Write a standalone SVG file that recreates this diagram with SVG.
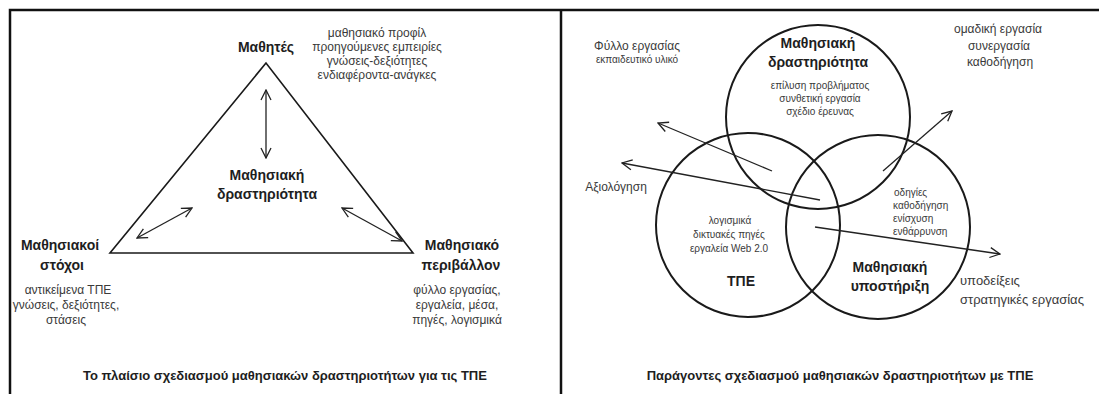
<svg xmlns="http://www.w3.org/2000/svg" width="1099" height="394" viewBox="0 0 1099 394">
  <style>
    text { font-family: "Liberation Sans", Arial, sans-serif; text-anchor: middle; }
    .h { font-weight: bold; font-size: 14px; fill: #1e1e1e; }
    .s { font-size: 12px; fill: #3a3a3a; }
    .xs { font-size: 10px; fill: #3a3a3a; }
    .cap { font-weight: bold; font-size: 13px; fill: #1e1e1e; }
    .frame { stroke: #111; stroke-width: 2.5; fill: none; }
    .shape { stroke: #1a1a1a; stroke-width: 1.6; fill: none; }
    .ring { stroke: #1a1a1a; stroke-width: 2; fill: none; }
    .arrow { stroke: #222; stroke-width: 1.3; fill: none; }
  </style>
  <defs>
    <marker id="head" viewBox="0 0 12 12" refX="11" refY="6" markerWidth="12" markerHeight="12" markerUnits="userSpaceOnUse" orient="auto-start-reverse">
      <path d="M1,1 L11,6 L1,11" fill="none" stroke="#222" stroke-width="1.3"/>
    </marker>
  </defs>
  <rect width="1099" height="394" fill="#fff"/>

  <!-- panel frame -->
  <g id="frame">
    <path class="frame" d="M10,394 V10 H1099"/>
    <path class="frame" d="M561,10 V394"/>
  </g>

  <!-- left panel: triangle framework -->
  <g id="triangle">
    <path class="shape" d="M266,63 L110,253 L413,253 Z"/>
  </g>
  <g id="learners">
    <text class="h" x="266" y="52">Μαθητές</text>
    <text class="s" x="377" y="37">μαθησιακό προφίλ</text>
    <text class="s" x="377" y="51">προηγούμενες εμπειρίες</text>
    <text class="s" x="377" y="65">γνώσεις-δεξιότητες</text>
    <text class="s" x="377" y="79">ενδιαφέροντα-ανάγκες</text>
  </g>
  <g id="activity-left">
    <text class="h" x="267" y="180">Μαθησιακή</text>
    <text class="h" x="267" y="199">δραστηριότητα</text>
  </g>
  <g id="goals">
    <text class="h" x="60" y="250">Μαθησιακοί</text>
    <text class="h" x="62" y="270">στόχοι</text>
    <text class="s" x="68" y="294">αντικείμενα ΤΠΕ</text>
    <text class="s" x="66" y="309">γνώσεις, δεξιότητες,</text>
    <text class="s" x="66" y="324">στάσεις</text>
  </g>
  <g id="environment">
    <text class="h" x="462" y="250">Μαθησιακό</text>
    <text class="h" x="461" y="270">περιβάλλον</text>
    <text class="s" x="457" y="294">φύλλο εργασίας,</text>
    <text class="s" x="457" y="309">εργαλεία, μέσα,</text>
    <text class="s" x="457" y="324">πηγές, λογισμικά</text>
  </g>
  <g id="caption-left">
    <text class="cap" x="285" y="380">Το πλαίσιο σχεδιασμού μαθησιακών δραστηριοτήτων για τις ΤΠΕ</text>
  </g>

  <!-- right panel: three overlapping factors -->
  <g id="activity">
    <circle class="ring" cx="818" cy="117" r="92"/>
    <text class="h" x="818" y="48">Μαθησιακή</text>
    <text class="h" x="818" y="67">δραστηριότητα</text>
    <text class="xs" x="820" y="89">επίλυση προβλήματος</text>
    <text class="xs" x="820" y="102">συνθετική εργασία</text>
    <text class="xs" x="820" y="115">σχέδιο έρευνας</text>
  </g>
  <g id="ict">
    <circle class="ring" cx="748" cy="225" r="92"/>
    <text class="xs" x="730" y="224">λογισμικά</text>
    <text class="xs" x="729" y="238">δικτυακές πηγές</text>
    <text class="xs" x="729" y="252">εργαλεία Web 2.0</text>
    <text class="h" x="741" y="286">ΤΠΕ</text>
  </g>
  <g id="support">
    <circle class="ring" cx="878" cy="227" r="92"/>
    <text class="xs" x="894" y="196" style="text-anchor:start">οδηγίες</text>
    <text class="xs" x="893" y="209" style="text-anchor:start">καθοδήγηση</text>
    <text class="xs" x="893" y="222" style="text-anchor:start">ενίσχυση</text>
    <text class="xs" x="893" y="235" style="text-anchor:start">ενθάρρυνση</text>
    <text class="h" x="890" y="272">Μαθησιακή</text>
    <text class="h" x="890" y="291">υποστήριξη</text>
  </g>
  <g id="worksheet">
    <text class="s" x="637" y="50">Φύλλο εργασίας</text>
    <text class="xs" x="637" y="63">εκπαιδευτικό υλικό</text>
  </g>
  <g id="teamwork">
    <text class="s" x="998" y="33">ομαδική εργασία</text>
    <text class="s" x="999" y="50">συνεργασία</text>
    <text class="s" x="1000" y="66">καθοδήγηση</text>
  </g>
  <g id="assessment">
    <text class="s" x="616" y="191">Αξιολόγηση</text>
  </g>
  <g id="hints">
    <text class="s" x="960" y="285" style="text-anchor:start;font-size:13px">υποδείξεις</text>
    <text class="s" x="960" y="304" style="text-anchor:start;font-size:13px">στρατηγικές εργασίας</text>
  </g>
  <g id="caption-right">
    <text class="cap" x="840" y="380">Παράγοντες σχεδιασμού μαθησιακών δραστηριοτήτων με ΤΠΕ</text>
  </g>

  <!-- connectors -->
  <g id="connectors" class="arrow">
    <line x1="266" y1="90" x2="266" y2="158" marker-start="url(#head)" marker-end="url(#head)"/>
    <line x1="137" y1="238" x2="192" y2="208" marker-start="url(#head)" marker-end="url(#head)"/>
    <line x1="342" y1="208" x2="402" y2="241" marker-start="url(#head)" marker-end="url(#head)"/>
    <line x1="772" y1="171" x2="658" y2="123" marker-end="url(#head)"/>
    <line x1="883" y1="171" x2="952" y2="111" marker-end="url(#head)"/>
    <line x1="820" y1="200" x2="622" y2="163" marker-end="url(#head)"/>
    <line x1="815" y1="227" x2="1000" y2="254" marker-end="url(#head)"/>
  </g>
</svg>
